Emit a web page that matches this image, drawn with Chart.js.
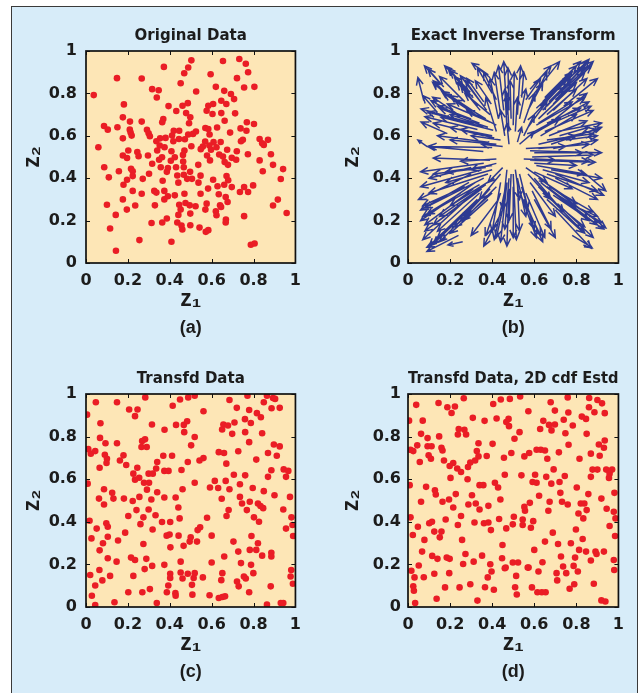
<!DOCTYPE html>
<html>
<head>
<meta charset="utf-8">
<script src="https://cdn.jsdelivr.net/npm/chart.js@4.4.1/dist/chart.umd.min.js"></script>
<style>
  html, body { margin: 0; padding: 0; background: #ffffff; }
  body { width: 642px; height: 693px; position: relative; overflow: hidden; }
  #frame { position: absolute; left: 11px; top: 6px; width: 627px; height: 700px;
           background: #d7ecf9; border: 1.6px solid #3a3a3a; box-sizing: border-box; }
  canvas { position: absolute; }
</style>
</head>
<body>
<div id="frame"></div>
<canvas id="panelA" width="293" height="330" style="left:16px;top:14px"></canvas>
<canvas id="panelB" width="294" height="330" style="left:338px;top:14px"></canvas>
<canvas id="panelC" width="293" height="330" style="left:16px;top:357px"></canvas>
<canvas id="panelD" width="294" height="330" style="left:338px;top:357px"></canvas>
<script>
// ---- axis ticks shared by every panel ----
const tickValues = [0, 0.2, 0.4, 0.6, 0.8, 1];
const tickLabels = ['0', '0.2', '0.4', '0.6', '0.8', '1'];

const panelTitles = ['Original Data', 'Exact Inverse Transform', 'Transfd Data', 'Transfd Data, 2D cdf Estd'];
const panelLabels = ['(a)', '(b)', '(c)', '(d)'];

// ---- (a) original samples (z1, z2) ----
const originalData = [
  [0.503,0.956],[0.654,0.953],[0.732,0.962],[0.763,0.94],[0.372,0.925],[0.488,0.922],[0.469,0.895],[0.774,0.9],
  [0.595,0.89],[0.148,0.872],[0.266,0.87],[0.721,0.872],[0.452,0.848],[0.62,0.831],[0.755,0.828],[0.804,0.831],
  [0.316,0.82],[0.347,0.815],[0.037,0.792],[0.526,0.809],[0.66,0.812],[0.692,0.797],[0.338,0.781],[0.707,0.773],
  [0.646,0.765],[0.67,0.75],[0.181,0.748],[0.486,0.754],[0.461,0.742],[0.394,0.74],[0.607,0.75],[0.584,0.742],
  [0.576,0.718],[0.431,0.717],[0.478,0.707],[0.604,0.703],[0.646,0.707],[0.712,0.706],[0.176,0.687],[0.498,0.687],
  [0.369,0.679],[0.364,0.664],[0.21,0.667],[0.266,0.667],[0.662,0.671],[0.768,0.664],[0.802,0.656],[0.492,0.659],
  [0.086,0.646],[0.15,0.64],[0.104,0.629],[0.209,0.629],[0.57,0.637],[0.584,0.632],[0.626,0.639],[0.738,0.635],
  [0.213,0.615],[0.291,0.628],[0.299,0.612],[0.419,0.624],[0.445,0.624],[0.525,0.62],[0.688,0.615],[0.766,0.624],
  [0.218,0.601],[0.305,0.598],[0.411,0.601],[0.488,0.606],[0.511,0.609],[0.59,0.606],[0.176,0.588],[0.354,0.588],
  [0.38,0.59],[0.444,0.585],[0.472,0.584],[0.749,0.581],[0.829,0.585],[0.869,0.581],[0.336,0.574],[0.417,0.574],
  [0.569,0.573],[0.609,0.57],[0.643,0.571],[0.74,0.574],[0.841,0.565],[0.059,0.546],[0.352,0.554],[0.375,0.546],
  [0.503,0.551],[0.558,0.549],[0.589,0.554],[0.623,0.546],[0.674,0.534],[0.849,0.557],[0.202,0.531],[0.34,0.531],
  [0.408,0.527],[0.47,0.531],[0.548,0.537],[0.597,0.534],[0.72,0.527],[0.245,0.523],[0.296,0.507],[0.176,0.507],
  [0.636,0.512],[0.773,0.513],[0.883,0.513],[0.251,0.504],[0.363,0.499],[0.424,0.499],[0.463,0.51],[0.578,0.507],
  [0.654,0.502],[0.696,0.496],[0.196,0.495],[0.349,0.487],[0.405,0.482],[0.464,0.479],[0.592,0.484],[0.717,0.487],
  [0.829,0.484],[0.316,0.468],[0.536,0.463],[0.662,0.476],[0.678,0.463],[0.893,0.463],[0.087,0.452],[0.215,0.444],
  [0.357,0.452],[0.391,0.448],[0.43,0.452],[0.467,0.452],[0.941,0.443],[0.157,0.433],[0.223,0.433],[0.301,0.421],
  [0.386,0.43],[0.497,0.43],[0.844,0.433],[0.109,0.404],[0.223,0.41],[0.436,0.413],[0.467,0.416],[0.547,0.412],
  [0.671,0.41],[0.271,0.397],[0.196,0.393],[0.366,0.388],[0.483,0.397],[0.506,0.397],[0.607,0.393],[0.679,0.39],
  [0.93,0.396],[0.441,0.379],[0.537,0.379],[0.66,0.369],[0.179,0.369],[0.798,0.366],[0.628,0.362],[0.696,0.358],
  [0.755,0.358],[0.223,0.34],[0.326,0.34],[0.583,0.351],[0.735,0.335],[0.266,0.327],[0.336,0.332],[0.374,0.34],
  [0.47,0.327],[0.547,0.327],[0.634,0.324],[0.774,0.335],[0.391,0.315],[0.424,0.319],[0.667,0.311],[0.176,0.3],
  [0.374,0.3],[0.916,0.299],[0.1,0.275],[0.235,0.271],[0.329,0.272],[0.445,0.275],[0.475,0.283],[0.495,0.272],
  [0.523,0.268],[0.576,0.28],[0.64,0.272],[0.676,0.288],[0.893,0.271],[0.195,0.252],[0.452,0.252],[0.57,0.252],
  [0.62,0.244],[0.645,0.264],[0.142,0.227],[0.441,0.227],[0.498,0.233],[0.623,0.225],[0.755,0.221],[0.386,0.21],
  [0.668,0.205],[0.313,0.189],[0.364,0.191],[0.436,0.191],[0.667,0.191],[0.456,0.177],[0.498,0.178],[0.115,0.163],
  [0.46,0.158],[0.542,0.167],[0.572,0.147],[0.584,0.155],[0.255,0.108],[0.408,0.1],[0.787,0.086],[0.805,0.092],
  [0.143,0.058],[0.958,0.236]
];

// ---- (b) quiver arrows: [tail z1, tail z2, head z1, head z2] ----
const quiverArrows = [
  [0.156,0.844,0.078,0.93],[0.17,0.83,0.095,0.915],[0.257,0.844,0.174,0.93],[0.296,0.805,0.2,0.907],
  [0.28,0.82,0.19,0.92],[0.382,0.888,0.304,0.942],[0.075,0.766,0.047,0.875],[0.218,0.766,0.117,0.852],
  [0.2,0.78,0.12,0.86],[0.358,0.743,0.249,0.883],[0.374,0.72,0.273,0.86],[0.343,0.72,0.234,0.852],
  [0.36,0.76,0.28,0.87],[0.33,0.74,0.25,0.84],[0.234,0.704,0.117,0.782],[0.249,0.688,0.109,0.766],
  [0.312,0.657,0.062,0.727],[0.358,0.642,0.093,0.712],[0.405,0.626,0.156,0.688],[0.389,0.665,0.187,0.75],
  [0.42,0.65,0.28,0.72],[0.38,0.64,0.2,0.7],[0.34,0.66,0.15,0.73],[0.3,0.68,0.14,0.74],
  [0.187,0.61,0.062,0.665],[0.093,0.548,0.047,0.58],[0.4,0.545,0.1,0.55],[0.358,0.526,0.093,0.55],
  [0.42,0.56,0.2,0.58],[0.44,0.58,0.3,0.6],[0.4,0.6,0.25,0.63],[0.45,0.55,0.35,0.56],
  [0.455,0.72,0.43,0.93],[0.47,0.7,0.455,0.95],[0.48,0.72,0.475,0.92],[0.49,0.68,0.485,0.86],
  [0.48,0.62,0.47,0.8],[0.5,0.65,0.505,0.9],[0.52,0.7,0.535,0.93],[0.51,0.62,0.52,0.78],
  [0.43,0.68,0.39,0.87],[0.42,0.62,0.37,0.78],[0.46,0.6,0.44,0.72],[0.47,0.64,0.46,0.82],
  [0.44,0.7,0.41,0.9],[0.48,0.56,0.47,0.66],
  [0.32,0.7,0.17,0.8],[0.35,0.69,0.2,0.79],[0.37,0.68,0.22,0.77],[0.29,0.72,0.16,0.81],
  [0.39,0.7,0.27,0.8],[0.33,0.63,0.08,0.69],[0.36,0.6,0.12,0.66],[0.41,0.59,0.2,0.64],
  [0.38,0.57,0.14,0.6],[0.4,0.8,0.33,0.92],[0.42,0.77,0.36,0.9],[0.39,0.76,0.32,0.86],
  [0.14,0.71,0.07,0.79],[0.27,0.76,0.15,0.88],[0.31,0.78,0.22,0.88],
  [0.65,0.78,0.82,0.95],[0.68,0.79,0.85,0.95],[0.7,0.77,0.87,0.93],[0.66,0.74,0.83,0.92],
  [0.72,0.8,0.86,0.96],[0.69,0.75,0.84,0.9],[0.63,0.74,0.78,0.9],[0.6,0.7,0.75,0.86],
  [0.62,0.68,0.8,0.85],[0.64,0.72,0.74,0.83],[0.61,0.73,0.77,0.88],[0.6,0.8,0.72,0.95],
  [0.58,0.82,0.68,0.93],[0.56,0.77,0.63,0.87],[0.54,0.78,0.55,0.9],[0.6,0.62,0.86,0.76],
  [0.64,0.64,0.87,0.74],[0.66,0.66,0.82,0.73],[0.62,0.66,0.78,0.76],[0.58,0.6,0.72,0.68],
  [0.7,0.68,0.85,0.8],[0.63,0.6,0.8,0.7],[0.68,0.56,0.92,0.64],[0.7,0.58,0.9,0.63],
  [0.66,0.58,0.88,0.61],[0.75,0.58,0.9,0.6],[0.62,0.56,0.8,0.6],[0.72,0.6,0.86,0.64],
  [0.58,0.53,0.92,0.52],[0.6,0.52,0.83,0.52],[0.56,0.54,0.75,0.55],[0.53,0.56,0.6,0.62],
  [0.55,0.6,0.6,0.7],[0.52,0.57,0.54,0.64],[0.57,0.64,0.66,0.76],[0.55,0.66,0.6,0.8],
  [0.74,0.74,0.9,0.87],
  [0.67,0.76,0.84,0.93],[0.71,0.79,0.88,0.95],[0.64,0.76,0.8,0.93],[0.69,0.72,0.85,0.87],
  [0.66,0.7,0.8,0.82],[0.61,0.65,0.84,0.78],[0.65,0.62,0.88,0.72],[0.67,0.6,0.85,0.67],
  [0.71,0.62,0.92,0.66],[0.69,0.54,0.9,0.58],[0.62,0.54,0.86,0.56],[0.59,0.5,0.88,0.51],
  [0.57,0.72,0.64,0.85],[0.59,0.76,0.66,0.9],[0.53,0.68,0.56,0.82],
  [0.39,0.485,0.12,0.495],[0.36,0.47,0.06,0.43],[0.4,0.46,0.18,0.43],[0.3,0.45,0.1,0.4],
  [0.42,0.49,0.25,0.48],[0.3,0.32,0.07,0.11],[0.33,0.3,0.1,0.08],[0.28,0.3,0.08,0.15],
  [0.35,0.35,0.12,0.18],[0.32,0.38,0.06,0.2],[0.36,0.4,0.08,0.26],[0.38,0.42,0.1,0.33],
  [0.25,0.33,0.07,0.22],[0.3,0.42,0.05,0.3],[0.34,0.33,0.14,0.15],[0.37,0.37,0.15,0.22],
  [0.26,0.1,0.19,0.085],[0.18,0.12,0.09,0.075],[0.38,0.3,0.2,0.14],[0.4,0.33,0.22,0.17],
  [0.42,0.36,0.26,0.2],[0.45,0.25,0.36,0.08],[0.43,0.3,0.3,0.13],[0.41,0.4,0.2,0.27],
  [0.47,0.38,0.44,0.1],[0.48,0.35,0.47,0.08],[0.46,0.3,0.42,0.12],[0.49,0.42,0.48,0.2],
  [0.44,0.38,0.4,0.15],[0.5,0.36,0.5,0.12],[0.47,0.44,0.45,0.25],[0.24,0.13,0.09,0.055],
  [0.45,0.45,0.38,0.38],[0.42,0.47,0.3,0.44],[0.44,0.42,0.34,0.3],
  [0.31,0.35,0.08,0.18],[0.34,0.37,0.09,0.23],[0.29,0.38,0.06,0.25],[0.36,0.32,0.14,0.12],
  [0.32,0.28,0.12,0.09],[0.27,0.36,0.07,0.27],[0.35,0.44,0.06,0.36],[0.4,0.44,0.18,0.38],
  [0.37,0.45,0.12,0.42],[0.46,0.34,0.41,0.11],[0.48,0.4,0.46,0.16],[0.44,0.33,0.37,0.13],
  [0.39,0.35,0.25,0.2],[0.3,0.25,0.15,0.1],
  [0.58,0.485,0.89,0.475],[0.6,0.47,0.8,0.46],[0.55,0.49,0.7,0.485],[0.82,0.44,0.94,0.34],
  [0.7,0.42,0.93,0.32],[0.65,0.38,0.94,0.165],[0.68,0.34,0.92,0.19],[0.62,0.36,0.84,0.14],
  [0.66,0.3,0.835,0.142],[0.7,0.25,0.87,0.07],[0.78,0.13,0.875,0.072],[0.62,0.4,0.8,0.28],
  [0.6,0.43,0.78,0.35],[0.64,0.44,0.86,0.38],[0.7,0.4,0.9,0.3],[0.72,0.3,0.9,0.22],
  [0.67,0.36,0.88,0.24],[0.53,0.34,0.61,0.12],[0.55,0.3,0.64,0.1],[0.56,0.27,0.63,0.13],
  [0.52,0.4,0.56,0.22],[0.51,0.44,0.53,0.3],[0.5,0.42,0.515,0.11],[0.52,0.38,0.53,0.15],
  [0.6,0.3,0.7,0.12],[0.58,0.38,0.7,0.22],[0.56,0.45,0.66,0.38],[0.57,0.42,0.68,0.3],
  [0.66,0.36,0.9,0.18],[0.63,0.38,0.86,0.2],[0.69,0.32,0.93,0.16],[0.64,0.33,0.84,0.17],
  [0.71,0.28,0.88,0.12],[0.66,0.42,0.9,0.34],[0.68,0.44,0.92,0.4],[0.61,0.46,0.84,0.42],
  [0.6,0.49,0.86,0.48],[0.54,0.36,0.6,0.16],[0.56,0.33,0.65,0.12],[0.53,0.42,0.57,0.26],
  [0.59,0.34,0.68,0.16],[0.6,0.4,0.74,0.24]
];

// ---- (c) transformed samples ----
const transformedData = [
  [0.047,0.961],[0.148,0.961],[0.283,0.984],[0.449,0.974],[0.488,0.984],[0.519,0.992],[0.685,0.972],[0.771,0.992],
  [0.864,0.992],[0.893,0.981],[0.903,0.977],[0.849,0.961],[0.005,0.903],[0.414,0.945],[0.206,0.927],[0.246,0.927],
  [0.234,0.896],[0.561,0.919],[0.72,0.935],[0.779,0.925],[0.886,0.933],[0.925,0.935],[0.816,0.91],[0.835,0.891],
  [0.069,0.863],[0.315,0.857],[0.43,0.855],[0.467,0.855],[0.483,0.872],[0.656,0.857],[0.678,0.852],[0.709,0.866],
  [0.759,0.882],[0.787,0.864],[0.375,0.832],[0.469,0.821],[0.65,0.833],[0.698,0.813],[0.76,0.821],[0.841,0.816],
  [0.067,0.794],[0.519,0.798],[0.282,0.787],[0.268,0.779],[0.093,0.769],[0.148,0.769],[0.779,0.774],[0.897,0.763],
  [0.925,0.754],[0.265,0.751],[0.29,0.751],[0.502,0.759],[0.011,0.741],[0.023,0.72],[0.044,0.732],[0.634,0.727],
  [0.659,0.723],[0.727,0.731],[0.869,0.723],[0.911,0.71],[0.09,0.715],[0.1,0.696],[0.179,0.712],[0.162,0.688],
  [0.369,0.71],[0.411,0.71],[0.561,0.699],[0.542,0.688],[0.813,0.692],[0.098,0.676],[0.192,0.667],[0.34,0.681],
  [0.486,0.681],[0.67,0.673],[0.065,0.654],[0.245,0.654],[0.335,0.65],[0.456,0.643],[0.374,0.639],[0.394,0.639],
  [0.885,0.642],[0.944,0.646],[0.966,0.639],[0.226,0.626],[0.299,0.626],[0.319,0.626],[0.706,0.621],[0.76,0.618],
  [0.869,0.611],[0.955,0.611],[0.234,0.598],[0.254,0.607],[0.615,0.592],[0.667,0.592],[0.277,0.583],[0.301,0.583],
  [0.519,0.583],[0.735,0.576],[0.008,0.579],[0.592,0.561],[0.631,0.559],[0.685,0.553],[0.796,0.559],[0.086,0.553],
  [0.291,0.551],[0.461,0.553],[0.849,0.544],[0.125,0.536],[0.34,0.539],[0.735,0.517],[0.9,0.525],[0.974,0.517],
  [0.131,0.509],[0.062,0.509],[0.181,0.509],[0.223,0.498],[0.255,0.517],[0.312,0.505],[0.374,0.514],[0.428,0.514],
  [0.648,0.508],[0.782,0.494],[0.821,0.486],[0.833,0.474],[0.846,0.464],[0.745,0.486],[0.086,0.481],[0.441,0.467],
  [0.768,0.455],[0.681,0.455],[0.241,0.455],[0.299,0.458],[0.942,0.458],[0.274,0.421],[0.332,0.431],[0.202,0.427],
  [0.447,0.416],[0.578,0.419],[0.671,0.427],[0.802,0.421],[0.826,0.4],[0.981,0.421],[0.017,0.405],[0.26,0.389],
  [0.363,0.399],[0.402,0.399],[0.097,0.393],[0.104,0.377],[0.051,0.368],[0.318,0.364],[0.545,0.374],[0.533,0.361],
  [0.955,0.368],[0.986,0.385],[0.187,0.349],[0.385,0.335],[0.399,0.34],[0.442,0.335],[0.5,0.327],[0.6,0.335],
  [0.79,0.333],[0.989,0.333],[0.104,0.33],[0.026,0.322],[0.153,0.312],[0.495,0.307],[0.53,0.307],[0.704,0.307],
  [0.821,0.299],[0.081,0.299],[0.274,0.296],[0.403,0.28],[0.466,0.287],[0.065,0.266],[0.727,0.26],[0.782,0.268],
  [0.813,0.268],[0.885,0.255],[0.885,0.237],[0.104,0.229],[0.215,0.232],[0.234,0.221],[0.288,0.226],[0.66,0.237],
  [0.841,0.241],[0.146,0.213],[0.452,0.213],[0.6,0.209],[0.74,0.206],[0.788,0.198],[0.28,0.178],[0.316,0.193],
  [0.374,0.198],[0.064,0.174],[0.98,0.174],[0.799,0.159],[0.402,0.156],[0.452,0.162],[0.486,0.156],[0.519,0.159],
  [0.651,0.159],[0.02,0.15],[0.115,0.146],[0.226,0.146],[0.402,0.136],[0.461,0.134],[0.514,0.136],[0.558,0.139],
  [0.754,0.143],[0.977,0.143],[0.078,0.125],[0.721,0.12],[0.763,0.134],[0.044,0.101],[0.393,0.101],[0.506,0.104],
  [0.646,0.126],[0.729,0.097],[0.882,0.097],[0.988,0.109],[0.305,0.084],[0.202,0.069],[0.269,0.069],[0.386,0.069],
  [0.427,0.065],[0.428,0.053],[0.508,0.058],[0.59,0.055],[0.634,0.042],[0.651,0.047],[0.664,0.05],[0.779,0.069],
  [0.028,0.053],[0.136,0.022],[0.338,0.019],[0.044,0.009],[0.93,0.019],[0.942,0.019],[0.864,0.011]
];

// ---- (d) transformed samples, estimated 2D cdf ----
const transformedEstData = [
  [0.039,0.949],[0.145,0.958],[0.187,0.938],[0.223,0.941],[0.265,0.98],[0.207,0.911],[0.405,0.953],[0.441,0.974],
  [0.484,0.977],[0.533,0.988],[0.678,0.961],[0.698,0.922],[0.759,0.984],[0.762,0.913],[0.861,0.981],[0.9,0.972],
  [0.922,0.956],[0.86,0.938],[0.886,0.914],[0.935,0.91],[0.572,0.919],[0.308,0.888],[0.364,0.874],[0.421,0.885],
  [0.478,0.883],[0.467,0.868],[0.07,0.875],[0.005,0.875],[0.643,0.874],[0.67,0.855],[0.698,0.857],[0.74,0.879],
  [0.783,0.852],[0.826,0.894],[0.846,0.883],[0.48,0.849],[0.628,0.836],[0.682,0.829],[0.241,0.836],[0.268,0.832],
  [0.237,0.81],[0.276,0.81],[0.53,0.821],[0.748,0.816],[0.849,0.813],[0.062,0.813],[0.148,0.801],[0.093,0.793],
  [0.506,0.79],[0.935,0.782],[0.335,0.769],[0.402,0.766],[0.763,0.762],[0.907,0.763],[0.931,0.748],[0.044,0.759],
  [0.093,0.755],[0.112,0.755],[0.159,0.748],[0.012,0.738],[0.025,0.732],[0.164,0.735],[0.611,0.738],[0.631,0.738],
  [0.651,0.735],[0.717,0.726],[0.327,0.732],[0.491,0.723],[0.576,0.723],[0.553,0.707],[0.869,0.72],[0.911,0.71],
  [0.098,0.712],[0.109,0.696],[0.335,0.707],[0.374,0.709],[0.456,0.701],[0.662,0.696],[0.815,0.696],[0.056,0.681],
  [0.171,0.688],[0.215,0.676],[0.198,0.662],[0.296,0.678],[0.319,0.688],[0.285,0.657],[0.234,0.65],[0.252,0.634],
  [0.692,0.646],[0.877,0.645],[0.9,0.645],[0.942,0.645],[0.958,0.626],[0.97,0.645],[0.46,0.621],[0.539,0.618],
  [0.604,0.621],[0.657,0.611],[0.745,0.615],[0.869,0.611],[0.955,0.606],[0.202,0.606],[0.283,0.6],[0.592,0.587],
  [0.611,0.583],[0.681,0.579],[0.72,0.587],[0.34,0.572],[0.358,0.572],[0.413,0.583],[0.428,0.561],[0.008,0.572],
  [0.086,0.564],[0.802,0.561],[0.128,0.548],[0.132,0.528],[0.227,0.53],[0.304,0.525],[0.623,0.522],[0.724,0.536],
  [0.857,0.53],[0.919,0.509],[0.981,0.536],[0.062,0.494],[0.164,0.494],[0.195,0.505],[0.287,0.481],[0.322,0.486],
  [0.382,0.475],[0.439,0.505],[0.579,0.489],[0.673,0.494],[0.732,0.494],[0.759,0.481],[0.821,0.486],[0.838,0.486],
  [0.215,0.467],[0.34,0.458],[0.553,0.47],[0.556,0.452],[0.667,0.452],[0.849,0.455],[0.944,0.461],[0.978,0.447],
  [0.81,0.439],[0.252,0.427],[0.012,0.421],[0.433,0.413],[0.503,0.424],[0.179,0.411],[0.545,0.411],[0.595,0.403],
  [0.833,0.416],[0.986,0.416],[0.101,0.393],[0.114,0.4],[0.237,0.385],[0.316,0.397],[0.361,0.393],[0.382,0.397],
  [0.498,0.388],[0.545,0.385],[0.047,0.377],[0.584,0.372],[0.958,0.38],[0.125,0.354],[0.159,0.354],[0.394,0.361],
  [0.467,0.369],[0.688,0.349],[0.798,0.364],[0.023,0.338],[0.151,0.327],[0.078,0.315],[0.257,0.315],[0.651,0.307],
  [0.713,0.296],[0.774,0.299],[0.83,0.319],[0.984,0.333],[0.449,0.291],[0.6,0.268],[0.813,0.268],[0.067,0.26],
  [0.846,0.26],[0.891,0.26],[0.896,0.249],[0.931,0.26],[0.273,0.249],[0.115,0.24],[0.14,0.226],[0.184,0.232],
  [0.198,0.226],[0.312,0.213],[0.352,0.241],[0.447,0.229],[0.727,0.237],[0.794,0.232],[0.869,0.218],[0.978,0.221],
  [0.498,0.209],[0.523,0.209],[0.573,0.185],[0.639,0.21],[0.051,0.195],[0.262,0.202],[0.391,0.201],[0.464,0.185],
  [0.737,0.19],[0.787,0.193],[0.98,0.174],[0.016,0.17],[0.397,0.167],[0.46,0.182],[0.62,0.167],[0.706,0.159],
  [0.752,0.159],[0.807,0.167],[0.125,0.156],[0.196,0.159],[0.031,0.139],[0.075,0.14],[0.379,0.139],[0.514,0.146],
  [0.569,0.185],[0.709,0.125],[0.79,0.107],[0.025,0.097],[0.176,0.092],[0.245,0.092],[0.296,0.107],[0.366,0.093],
  [0.408,0.081],[0.509,0.093],[0.589,0.092],[0.768,0.086],[0.883,0.109],[0.517,0.059],[0.615,0.069],[0.636,0.069],
  [0.654,0.069],[0.028,0.076],[0.136,0.039],[0.33,0.03],[0.034,0.019],[0.919,0.031],[0.938,0.026]
];

// ---- styling ----
const PLOT_BG = '#fde6b6';
const DOT_RED = '#ea1d25';
const ARROW_BLUE = '#2d3a92';
const INK = '#1c1c1c';

Chart.defaults.font.family = "'DejaVu Sans', sans-serif";
Chart.defaults.color = INK;

// Wheat fill behind the data area
const plotBackground = {
  id: 'plotBackground',
  beforeDatasetsDraw(chart) {
    const { ctx, chartArea: a } = chart;
    ctx.save();
    ctx.fillStyle = PLOT_BG;
    ctx.fillRect(a.left, a.top, a.width, a.height);
    ctx.restore();
  }
};

// Closed box with short inward tick marks on all four sides
const boxedAxes = {
  id: 'boxedAxes',
  afterDatasetsDraw(chart) {
    const { ctx, chartArea: a, scales } = chart;
    const len = 4;
    ctx.save();
    ctx.strokeStyle = '#111';
    ctx.lineWidth = 1;
    ctx.beginPath();
    scales.x.ticks.forEach(t => {
      const px = Math.round(scales.x.getPixelForValue(t.value)) + 0.5;
      ctx.moveTo(px, a.bottom); ctx.lineTo(px, a.bottom - len);
      ctx.moveTo(px, a.top); ctx.lineTo(px, a.top + len);
    });
    scales.y.ticks.forEach(t => {
      const py = Math.round(scales.y.getPixelForValue(t.value)) + 0.5;
      ctx.moveTo(a.left, py); ctx.lineTo(a.left + len, py);
      ctx.moveTo(a.right, py); ctx.lineTo(a.right - len, py);
    });
    ctx.stroke();
    ctx.lineWidth = 1.7;
    ctx.strokeRect(a.left, a.top, a.width, a.height);
    ctx.restore();
  }
};

function scatterDataset(points) {
  return {
    data: points.map(([x, y]) => ({ x, y })),
    pointRadius: 3.3,
    pointBackgroundColor: DOT_RED,
    pointBorderWidth: 0,
    clip: 0
  };
}

// Shafts and heads of every arrow as one broken polyline (null breaks the path)
function quiverDataset(arrows) {
  const data = [];
  arrows.forEach(([x0, y0, x1, y1]) => {
    const dx = x1 - x0, dy = y1 - y0;
    const len = Math.hypot(dx, dy);
    const ux = dx / len, uy = dy / len;
    const hl = Math.min(0.036, len * 0.35);
    const hw = hl * 0.45;
    const bx = x1 - ux * hl, by = y1 - uy * hl;
    data.push({ x: x0, y: y0 }, { x: x1, y: y1 }, { x: x1, y: null });
    data.push({ x: bx - uy * hw, y: by + ux * hw }, { x: x1, y: y1 },
              { x: bx + uy * hw, y: by - ux * hw }, { x: x1, y: null });
  });
  return {
    data,
    showLine: true,
    spanGaps: false,
    borderColor: ARROW_BLUE,
    borderWidth: 1.5,
    borderJoinStyle: 'miter',
    pointRadius: 0,
    clip: 0
  };
}

function makePanel(canvasId, index, dataset, col) {
  const yTitlePad = col === 0 ? 4 : 1.5;
  const yTickPad = col === 0 ? 9 : 7;
  new Chart(document.getElementById(canvasId), {
    type: 'scatter',
    data: { datasets: [dataset] },
    options: {
      responsive: false,
      maintainAspectRatio: false,
      devicePixelRatio: 1,
      animation: false,
      events: [],
      layout: { padding: { left: 0, right: 10, top: 0, bottom: index < 2 ? 3.4 : 2.4 } },
      plugins: {
        legend: { display: false },
        tooltip: { enabled: false },
        title: {
          display: true,
          text: panelTitles[index],
          fullSize: false,
          color: INK,
          font: { family: "'DejaVu Sans', sans-serif", size: 15, weight: 'bold', lineHeight: 1.2 },
          padding: { top: 13, bottom: 6 }
        },
        subtitle: {
          display: true,
          position: 'bottom',
          text: panelLabels[index],
          fullSize: false,
          color: INK,
          font: { family: "'Liberation Sans', Arial, sans-serif", size: 18, weight: 'bold', lineHeight: 1.2 },
          padding: { top: 2, bottom: 2 }
        }
      },
      scales: {
        x: {
          type: 'linear', min: 0, max: 1,
          afterBuildTicks: s => { s.ticks = tickValues.map(v => ({ value: v })); },
          afterFit: s => { s.height = 52; },
          grid: { display: false, drawTicks: false },
          border: { display: false },
          ticks: {
            autoSkip: false, maxRotation: 0, padding: 8, color: INK,
            font: { family: "'DejaVu Sans', sans-serif", size: 16, weight: 'bold', lineHeight: 1.2 },
            callback: (v, i) => tickLabels[i]
          },
          title: {
            display: true, text: 'z₁', color: INK,
            font: { family: "'Liberation Sans', Arial, sans-serif", size: 23, weight: 'bold', lineHeight: 1.1 },
            padding: { top: 0, bottom: 3 }
          }
        },
        y: {
          type: 'linear', min: 0, max: 1,
          afterBuildTicks: s => { s.ticks = tickValues.map(v => ({ value: v })); },
          afterFit: s => { s.width = 70; },
          grid: { display: false, drawTicks: false },
          border: { display: false },
          ticks: {
            autoSkip: false, padding: yTickPad, color: INK,
            font: { family: "'DejaVu Sans', sans-serif", size: 16, weight: 'bold', lineHeight: 1.2 },
            callback: (v, i) => tickLabels[i]
          },
          title: {
            display: true, text: 'z₂', color: INK,
            font: { family: "'Liberation Sans', Arial, sans-serif", size: 23, weight: 'bold', lineHeight: 1.1 },
            padding: { top: yTitlePad, bottom: 0 }
          }
        }
      }
    },
    plugins: [plotBackground, boxedAxes]
  });
}

makePanel('panelA', 0, scatterDataset(originalData), 0);
makePanel('panelB', 1, quiverDataset(quiverArrows), 1);
makePanel('panelC', 2, scatterDataset(transformedData), 0);
makePanel('panelD', 3, scatterDataset(transformedEstData), 1);
</script>
</body>
</html>
